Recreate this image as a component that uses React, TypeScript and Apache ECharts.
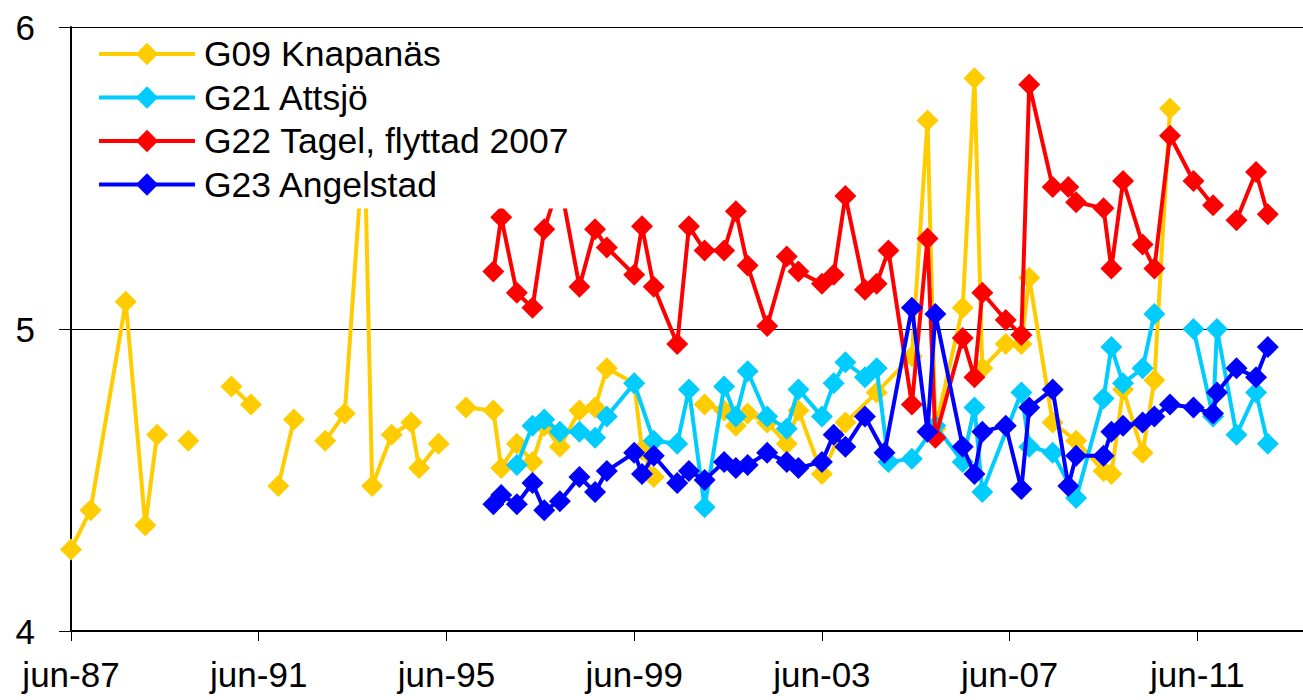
import React, { useEffect, useRef } from "react";
import * as echarts from "echarts";

const seriesNames = ["G09 Knapanäs", "G21 Attsjö", "G22 Tagel, flyttad 2007", "G23 Angelstad"];
const seriesColors = ["#FFCC00", "#00CCFF", "#FF0000", "#0000FF"];

const g09Dates = [
  "1987-06", "1987-11", "1988-08", "1989-01", "1989-04", "1989-08", "1989-12", "1990-06",
  "1990-11", "1991-04", "1991-08", "1991-11", "1992-03", "1992-07", "1992-11", "1993-04",
  "1993-09", "1993-11", "1994-04", "1994-09", "1994-11", "1995-04", "1995-08", "1995-11",
  "1996-06", "1996-08", "1996-12", "1997-04", "1997-07", "1997-11", "1998-04", "1998-08",
  "1998-11", "1999-06", "1999-08", "1999-11", "2000-05", "2000-12", "2001-05", "2001-08",
  "2001-11", "2002-04", "2002-09", "2002-12", "2003-06", "2003-12", "2004-08", "2005-05",
  "2005-09", "2005-11", "2006-06", "2006-09", "2006-11", "2007-05", "2007-09", "2007-11",
  "2008-05", "2008-11", "2009-06", "2009-08", "2009-11", "2010-04", "2010-07", "2010-11",
];
const g09Values = [
  4.27, 4.40, 5.09, 4.35, 4.65, null, 4.63, null,
  4.81, 4.75, null, 4.48, 4.70, null, 4.63, 4.72,
  5.65, 4.48, 4.65, 4.69, 4.54, 4.62, null, 4.74,
  4.73, 4.54, 4.62, 4.56, 4.68, 4.61, 4.73, 4.74,
  4.87, 4.82, 4.60, 4.51, null, 4.75, 4.73, 4.68,
  4.72, 4.69, 4.62, 4.73, 4.52, 4.69, 4.79, 4.91,
  5.69, 4.67, 5.07, 5.83, 4.87, 4.95, 4.95, 5.17,
  4.69, 4.63, 4.53, 4.52, 4.80, 4.59, 4.83, 5.73,
];

const g21Dates = [
  "1996-12", "1997-04", "1997-07", "1997-11", "1998-04", "1998-08", "1998-11", "1999-06",
  "1999-11", "2000-05", "2000-08", "2000-12", "2001-05", "2001-08", "2001-11", "2002-04",
  "2002-09", "2002-12", "2003-06", "2003-09", "2003-12", "2004-05", "2004-08", "2004-11",
  "2005-05", "2005-11", "2006-06", "2006-09", "2006-11", "2007-09", "2007-11", "2008-05",
  "2008-11", "2009-06", "2009-08", "2009-11", "2010-04", "2010-07", "2011-01", "2011-05",
  "2011-10", "2011-11", "2012-04", "2012-09", "2012-12",
];
const g21Values = [
  4.55, 4.68, 4.70, 4.66, 4.66, 4.64, 4.71, 4.82,
  4.63, 4.62, 4.80, 4.41, 4.81, 4.71, 4.86, 4.71,
  4.67, 4.80, 4.71, 4.82, 4.89, 4.84, 4.87, 4.56,
  4.57, 4.68, 4.56, 4.74, 4.46, 4.79, 4.61, 4.59,
  4.44, 4.77, 4.94, 4.82, 4.87, 5.05, null, 5.00,
  4.71, 5.00, 4.65, 4.79, 4.62,
];

const g22Dates = [
  "1996-06", "1996-08", "1996-12", "1997-04", "1997-07", "1997-11", "1998-04", "1998-08",
  "1998-11", "1999-06", "1999-08", "1999-11", "2000-05", "2000-08", "2000-12", "2001-05",
  "2001-08", "2001-11", "2002-04", "2002-09", "2002-12", "2003-06", "2003-09", "2003-12",
  "2004-05", "2004-08", "2004-11", "2005-05", "2005-09", "2005-11", "2006-06", "2006-09",
  "2006-11", "2007-05", "2007-09", "2007-11", "2008-05", "2008-09", "2008-11", "2009-06",
  "2009-08", "2009-11", "2010-04", "2010-07", "2010-11", "2011-05", "2011-10", "2012-01",
  "2012-04", "2012-09", "2012-12",
];
const g22Values = [
  5.19, 5.37, 5.12, 5.07, 5.33, 5.49, 5.14, 5.33,
  5.27, 5.18, 5.34, 5.14, 4.95, 5.34, 5.26, 5.26,
  5.39, 5.21, 5.01, 5.24, 5.19, 5.15, 5.18, 5.44,
  5.13, 5.15, 5.26, 4.75, 5.30, 4.64, 4.97, 4.84,
  5.12, 5.03, 4.98, 5.81, 5.47, 5.47, 5.42, 5.40,
  5.20, 5.49, 5.28, 5.20, 5.64, 5.49, 5.41, null,
  5.36, 5.52, 5.38,
];

const g23Dates = [
  "1996-06", "1996-08", "1996-12", "1997-04", "1997-07", "1997-11", "1998-04", "1998-08",
  "1998-11", "1999-06", "1999-08", "1999-11", "2000-05", "2000-08", "2000-12", "2001-05",
  "2001-08", "2001-11", "2002-04", "2002-09", "2002-12", "2003-06", "2003-09", "2003-12",
  "2004-05", "2004-10", "2005-05", "2005-09", "2005-11", "2006-06", "2006-09", "2006-11",
  "2007-05", "2007-09", "2007-11", "2008-05", "2008-09", "2008-11", "2009-06", "2009-08",
  "2009-11", "2010-04", "2010-07", "2010-11", "2011-05", "2011-10", "2011-11", "2012-04",
  "2012-09", "2012-12",
];
const g23Values = [
  4.42, 4.45, 4.42, 4.49, 4.40, 4.43, 4.51, 4.46,
  4.53, 4.59, 4.52, 4.58, 4.49, 4.53, 4.50, 4.56,
  4.54, 4.55, 4.59, 4.56, 4.54, 4.56, 4.65, 4.61,
  4.71, 4.59, 5.07, 4.66, 5.05, 4.61, 4.52, 4.66,
  4.68, 4.47, 4.74, 4.80, 4.48, 4.58, 4.58, 4.66,
  4.68, 4.69, 4.71, 4.75, 4.74, 4.72, 4.79, 4.87,
  4.84, 4.94,
];

const allDates = [g09Dates, g21Dates, g22Dates, g23Dates];
const allValues = [g09Values, g21Values, g22Values, g23Values];

const yTicks = [4, 5, 6];
const FONT = "Liberation Sans, Arial, sans-serif";

// months since jun-87
function monthIndex(d: string): number {
  const [y, m] = d.split("-").map(Number);
  return (y - 1987) * 12 + (m - 6);
}

function xLabel(v: number): string {
  if (Math.round(v) % 48 !== 0) return "";
  const yy = (87 + Math.round(v) / 12) % 100;
  return "jun-" + String(yy).padStart(2, "0");
}

export default function App() {
  const ref = useRef<HTMLDivElement>(null);
  useEffect(() => {
    if (!ref.current) return;
    const chart = echarts.init(ref.current, null, { renderer: "svg" });
    const series = seriesNames.map((name, i) => ({
      name,
      type: "line",
      data: allDates[i].map((d, j) => [monthIndex(d), allValues[i][j]]),
      symbol: "diamond",
      symbolSize: 22,
      showSymbol: true,
      connectNulls: false,
      color: seriesColors[i],
      lineStyle: { width: 4, color: seriesColors[i] },
      itemStyle: { color: seriesColors[i] },
      z: 2 + i,
    }));
    chart.setOption({
      animation: false,
      backgroundColor: "#ffffff",
      grid: { left: 71, right: 0, top: 27, bottom: 69, containLabel: false },
      legend: {
        orient: "vertical",
        left: 90,
        top: 30,
        itemWidth: 96,
        itemHeight: 28,
        itemGap: 7.5,
        padding: [6, 14, 6, 7],
        backgroundColor: "#ffffff",
        z: 10,
        lineStyle: { width: 4 },
        textStyle: { fontSize: 35.5, fontFamily: FONT, color: "#000", padding: [0, 0, 0, 4] },
        data: seriesNames,
      },
      xAxis: {
        type: "value",
        min: 0,
        max: 315,
        interval: 48,
        axisLine: { show: true, onZero: false, lineStyle: { color: "#000", width: 2 } },
        axisTick: { show: true, length: 10, lineStyle: { color: "#000", width: 1 } },
        axisLabel: {
          formatter: xLabel,
          fontSize: 35,
          fontFamily: FONT,
          color: "#000",
          margin: 26,
          showMaxLabel: false,
        },
        splitLine: { show: false },
      },
      yAxis: {
        type: "value",
        min: yTicks[0],
        max: yTicks[yTicks.length - 1],
        interval: 1,
        axisLine: { show: true, lineStyle: { color: "#000", width: 2 } },
        axisTick: { show: true, length: 12, lineStyle: { color: "#000", width: 1 } },
        axisLabel: { fontSize: 35, fontFamily: FONT, color: "#000", margin: 36 },
        splitLine: { show: true, lineStyle: { color: "#000", width: 1 } },
      },
      series,
    });
    return () => chart.dispose();
  }, []);
  return (
    <div
      ref={ref}
      style={{ position: "fixed", left: 0, top: 0, width: 1303, height: 700, background: "#fff" }}
    />
  );
}
